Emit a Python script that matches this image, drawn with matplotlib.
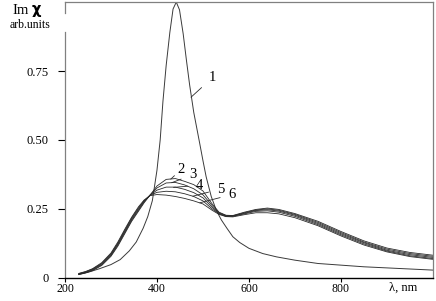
import matplotlib
matplotlib.use("Agg")
import matplotlib.pyplot as plt
import matplotlib.transforms as mtransforms

plt.rcParams["font.family"] = ["Liberation Serif", "DejaVu Serif"]

# curve 1 (sharp peak)
wl_1 = [230, 250, 275, 300, 320, 340, 355, 370, 380, 390, 400, 407, 413, 420,
        428, 435, 442, 449, 457, 464, 471, 480, 493, 500, 507, 518, 529, 540,
        552, 565, 580, 600, 630, 660, 700, 750, 800, 850, 925, 1000]
im_1 = [0.012, 0.020, 0.033, 0.048, 0.066, 0.098, 0.130, 0.180, 0.222, 0.280,
        0.390, 0.500, 0.640, 0.770, 0.890, 0.975, 1.000, 0.972, 0.885, 0.790,
        0.700, 0.600, 0.487, 0.425, 0.366, 0.295, 0.245, 0.210, 0.180, 0.149,
        0.128, 0.107, 0.088, 0.076, 0.064, 0.052, 0.046, 0.040, 0.034, 0.028]

# curves 2..6 (same wavelength grid)
wl_26 = [230, 245, 260, 280, 300, 315, 330, 345, 360, 372, 385, 400, 420, 440,
         460, 480, 500, 520, 535, 550, 565, 590, 615, 640, 665, 700, 750, 800,
         850, 900, 950, 1000]
im_2 = [0.012, 0.018, 0.026, 0.045, 0.078, 0.115, 0.160, 0.205, 0.242, 0.272,
        0.300, 0.333, 0.357, 0.360, 0.350, 0.338, 0.315, 0.268, 0.238, 0.227,
        0.226, 0.238, 0.248, 0.253, 0.248, 0.233, 0.205, 0.168, 0.134, 0.108,
        0.092, 0.082]
im_3 = [0.013, 0.019, 0.028, 0.047, 0.081, 0.119, 0.164, 0.209, 0.246, 0.275,
        0.300, 0.326, 0.344, 0.346, 0.337, 0.323, 0.301, 0.262, 0.236, 0.226,
        0.225, 0.236, 0.246, 0.250, 0.245, 0.230, 0.201, 0.164, 0.130, 0.104,
        0.088, 0.078]
im_4 = [0.014, 0.020, 0.030, 0.050, 0.084, 0.123, 0.168, 0.213, 0.250, 0.278,
        0.300, 0.318, 0.329, 0.329, 0.321, 0.309, 0.290, 0.256, 0.234, 0.224,
        0.224, 0.234, 0.244, 0.247, 0.242, 0.227, 0.197, 0.160, 0.127, 0.100,
        0.084, 0.074]
im_5 = [0.015, 0.022, 0.032, 0.052, 0.087, 0.126, 0.172, 0.217, 0.254, 0.280,
        0.299, 0.310, 0.314, 0.312, 0.305, 0.295, 0.279, 0.250, 0.232, 0.223,
        0.223, 0.232, 0.241, 0.243, 0.238, 0.223, 0.193, 0.156, 0.123, 0.097,
        0.080, 0.070]
im_6 = [0.016, 0.023, 0.033, 0.055, 0.090, 0.130, 0.176, 0.220, 0.258, 0.282,
        0.298, 0.302, 0.300, 0.295, 0.288, 0.279, 0.268, 0.245, 0.230, 0.222,
        0.221, 0.229, 0.236, 0.236, 0.232, 0.218, 0.189, 0.152, 0.119, 0.094,
        0.077, 0.067]

# curve labels: text position and where the leader touches the curve
labels = ["1", "2", "3", "4", "5", "6"]
label_xy = [(520, 0.725), (452, 0.392), (478, 0.374), (493, 0.336), (538, 0.322), (563, 0.302)]
leader_xy = [(474, 0.655), (430, 0.358), (432, 0.345), (436, 0.328), (478, 0.296), (493, 0.272)]

xticks = [200, 400, 600, 800]
yticks = [0, 0.25, 0.5, 0.75]
yticklabels = ["0", "0.25", "0.50", "0.75"]

fig = plt.figure(figsize=(4.36, 3.01), dpi=100)
ax = fig.add_axes([0.149, 0.077, 0.844, 0.916])

ax.plot(wl_1, im_1, color="#3a3a3a", lw=0.7)
for ys in (im_2, im_3, im_4, im_5, im_6):
    ax.plot(wl_26, ys, color="#2a2a2a", lw=0.6)

for lab, (tx, ty), (px, py) in zip(labels, label_xy, leader_xy):
    ax.annotate(lab, xy=(px, py), xytext=(tx, ty), fontsize=10.5,
                ha="center", va="center",
                arrowprops=dict(arrowstyle="-", color="#2a2a2a", lw=0.6,
                                shrinkA=4, shrinkB=0))

ax.set_xlim(200, 1000)
ax.set_ylim(0, 1.0)
ax.set_xticks(xticks)
ax.set_yticks(yticks)
ax.set_yticklabels(yticklabels)
ax.tick_params(axis="x", direction="out", length=3, pad=1, labelsize=8.5, width=0.8)
ax.tick_params(axis="y", direction="out", length=5, pad=7, labelsize=9, width=0.8)

for side in ("top", "right", "left"):
    ax.spines[side].set_color("#808080")
    ax.spines[side].set_linewidth(0.9)
ax.spines["bottom"].set_color("black")
ax.spines["bottom"].set_linewidth(1.0)
# gap in the left axis where the unit label sits
ax.spines["left"].set_bounds(0, 0.89)
ax.plot([0, 0], [0.96, 1.0], transform=ax.transAxes, color="#808080",
        lw=0.9, clip_on=False)

trans = mtransforms.blended_transform_factory(ax.transData, ax.transAxes)
ax.text(935, -0.037, "λ, nm", transform=trans, ha="center", va="center", fontsize=9)

fig.text(0.062, 0.965, "Im $\\mathbf{\\chi}$", ha="center", va="center", fontsize=10.5)
fig.text(0.069, 0.918, "arb.units", ha="center", va="center", fontsize=8.5)

fig.savefig("out.png", dpi=100)
